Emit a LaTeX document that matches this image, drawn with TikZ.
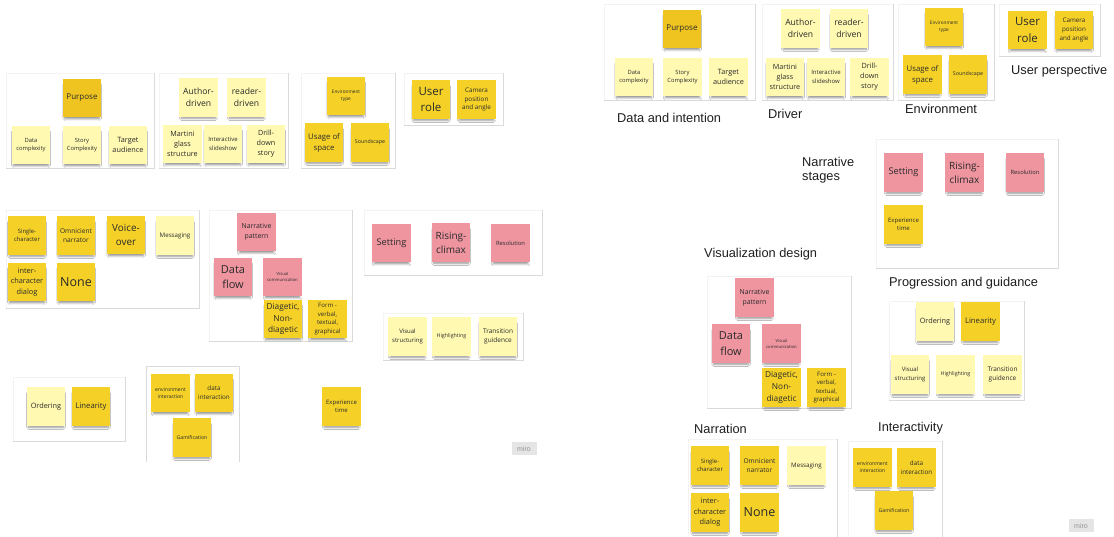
\documentclass[tikz,border=0pt]{standalone}
\usepackage{fontspec}
\setmainfont{Open Sans}
\newfontfamily\labelfont{Liberation Sans}
\usetikzlibrary{shadows.blur}

\definecolor{stickyD}{HTML}{F5D128}
\definecolor{stickyL}{HTML}{FFF9B1}
\definecolor{stickyP}{HTML}{EF95A0}
\definecolor{stickyG}{HTML}{EFC420}
\definecolor{ink}{HTML}{2A2A2A}
\definecolor{frameA}{HTML}{DADADA}
\definecolor{frameB}{HTML}{F3F3F3}

\tikzset{
  note/.style={minimum width=38.5pt, minimum height=38.5pt, inner sep=0pt,
    align=center, text=ink,
    blur shadow={shadow blur steps=6, shadow xshift=0pt, shadow yshift=-4pt,
      shadow opacity=42, shadow scale=0.9}},
  dark/.style={note, fill=stickyD},
  light/.style={note, fill=stickyL},
  pink/.style={note, fill=stickyP},
  gold/.style={note, fill=stickyG},
  fs/.style={font=\pgfmathsetmacro\lsk{1.4*#1}\fontsize{#1}{\lsk}\selectfont},
  lbl/.style={anchor=west, inner sep=0pt, text=black!88,
    font=\labelfont\fontsize{12.8}{15}\selectfont, align=left},
  badge/.style={fill=black!10, minimum width=25pt, minimum height=13pt,
    inner sep=0pt, text=black!42, font=\labelfont\fontsize{7}{8}\selectfont},
}

% frame: faint top/left edges, slightly darker right/bottom edges
\newcommand\frm[4]{%
  \draw[frameB, line width=0.7pt] (#1,#4) -- (#1,#2) -- (#3,#2);
  \draw[frameA, line width=0.8pt] (#3,#2) -- (#3,#4) -- (#1,#4);}

\begin{document}
\begin{tikzpicture}[x=1pt, y=-1pt]
\fill[white] (0,0) rectangle (1114,537);
\useasboundingbox (0,0) rectangle (1114,537);
\clip (0,0) rectangle (1114,537);

% ---------------- left board ----------------
\frm{6}{73}{154}{168}
\frm{159}{73}{288}{168}
\frm{301}{73}{395}{168}
\frm{404}{73}{503}{125}
\frm{6}{210}{199}{308}
\frm{209}{210}{352}{341}
\frm{364}{210}{542}{275}
\frm{383}{313}{523}{360}
\frm{13}{377}{125}{441}
\draw[frameA, line width=0.8pt] (146,462) -- (146,366) -- (239,366) -- (239,462);

\node[gold, fs=8]    (lPurpose) at (82,98)   {Purpose};
\node[light, fs=5.8] (lDataC)   at (31,145)  {Data\\complexity};
\node[light, fs=5.8] (lStoryC)  at (82,145)  {Story\\Complexity};
\node[light, fs=7.3] (lTarget)  at (128,145) {Target\\audience};

\node[light, fs=8.6] (lAuthor)  at (198.5,97.5) {Author-\\driven};
\node[light, fs=8.6] (lReader)  at (246.5,97.5) {reader-\\driven};
\node[light, fs=7.2] (lMartini) at (182.5,144)  {Martini\\glass\\structure};
\node[light, fs=6]   (lSlides)  at (223,144)    {Interactive\\slideshow};
\node[light, fs=7.2] (lDrill)   at (266,144)    {Drill-\\down\\story};

\node[dark, fs=4.7]  (lEnvType) at (346,96)    {Environment\\type};
\node[dark, fs=7.8]  (lUsage)   at (324,142.5) {Usage of\\space};
\node[dark, fs=5.3]  (lSound)   at (370,142.5) {Soundscape};

\node[dark, fs=11.5] (lUser)    at (431,99.5)   {User\\role};
\node[dark, fs=6.3]  (lCamera)  at (476.5,99.5) {Camera\\position\\and angle};

\node[dark, fs=5.9]  (lSingle)  at (27,235.5)  {Single-\\character};
\node[dark, fs=6.6]  (lOmni)    at (76,235.5)  {Omnicient\\narrator};
\node[dark, fs=9.9]  (lVoice)   at (126,235)   {Voice-\\over};
\node[light, fs=6.2] (lMsg)     at (175,235.5) {Messaging};
\node[dark, fs=7.4]  (lInter)   at (27,282)    {inter-\\character\\dialog};
\node[dark, fs=12.5] (lNone)    at (76,282)    {None};

\node[pink, fs=6.9]  (lPattern) at (256.5,232) {Narrative\\pattern};
\node[pink, fs=11]   (lFlow)    at (233,277)   {Data\\flow};
\node[pink, fs=4.2]  (lVisCom)  at (282.5,277) {Visual\\communication};
\node[dark, fs=8.3]  (lDiag)    at (283,319)   {Diagetic,\\Non-\\diagetic};
\node[dark, fs=6.1]  (lForm)    at (327.5,319) {Form -\\verbal,\\textual,\\graphical};

\node[pink, fs=9.2]  (lSetting) at (391.5,243) {Setting};
\node[pink, fs=10]   (lRising)  at (451,242.5) {Rising-\\climax};
\node[pink, fs=5.8]  (lResol)   at (510.5,243) {Resolution};

\node[light, fs=6]   (lVisStr)  at (407.5,336.5) {Visual\\structuring};
\node[light, fs=5.3] (lHigh)    at (451.5,336.5) {Highlighting};
\node[light, fs=6.5] (lTrans)   at (498,336.5)   {Transition\\guidence};

\node[light, fs=7.3] (lOrder)   at (46,406.5) {Ordering};
\node[dark, fs=7.7]  (lLinear)  at (91,406.5) {Linearity};

\node[dark, fs=5.1]  (lEnvInt)  at (170.5,393) {environment\\interaction};
\node[dark, fs=6.3]  (lDataInt) at (214,393)   {data\\interaction};
\node[dark, fs=5.2]  (lGame)    at (192,437.5) {Gamification};

\node[dark, fs=6]    (lExp)     at (341.5,406.5) {Experience\\time};
\node[badge]         (lMiro)    at (524,448.5)   {miro};

% ---------------- right board ----------------
\frm{604}{4}{755}{100}
\frm{762}{4}{893}{100}
\frm{898}{4}{994}{100}
\frm{999}{4}{1100}{56}
\frm{876}{139}{1058}{268}
\frm{707}{276}{851}{408}
\frm{889}{301}{1024}{400}
\frm{688}{439}{837}{545}
\frm{848}{441}{942}{545}

\node[gold, fs=8]    (rPurpose) at (682,29)   {Purpose};
\node[light, fs=5.8] (rDataC)   at (634,77)   {Data\\complexity};
\node[light, fs=5.8] (rStoryC)  at (682.5,77) {Story\\Complexity};
\node[light, fs=7.3] (rTarget)  at (728.5,77) {Target\\audience};
\node[lbl] (tData) at (617,118) {Data and intention};

\node[light, fs=8.6] (rAuthor)  at (800.5,28.5) {Author-\\driven};
\node[light, fs=8.6] (rReader)  at (849,28.5)   {reader-\\driven};
\node[light, fs=7.2] (rMartini) at (785,77)     {Martini\\glass\\structure};
\node[light, fs=6]   (rSlides)  at (826,77)     {Interactive\\slideshow};
\node[light, fs=7.2] (rDrill)   at (869.5,77)   {Drill-\\down\\story};
\node[lbl] (tDriver) at (768,114) {Driver};

\node[dark, fs=4.7]  (rEnvType) at (944,27)    {Environment\\type};
\node[dark, fs=7.8]  (rUsage)   at (922.5,74.5) {Usage of\\space};
\node[dark, fs=5.3]  (rSound)   at (968,74.5)  {Soundscape};
\node[lbl] (tEnv) at (905,109) {Environment};

\node[dark, fs=11.5] (rUser)    at (1027.5,30) {User\\role};
\node[dark, fs=6.3]  (rCamera)  at (1074,30)   {Camera\\position\\and angle};
\node[lbl] (tUser) at (1011,71) {User perspective};

\node[lbl, font=\labelfont\fontsize{12.8}{14}\selectfont] (tStages) at (802,170) {Narrative\\stages};
\node[pink, fs=9.2]  (rSetting) at (903.5,172.5) {Setting};
\node[pink, fs=10]   (rRising)  at (964.5,172.5) {Rising-\\climax};
\node[pink, fs=5.8]  (rResol)   at (1025,172.5)  {Resolution};
\node[dark, fs=6]    (rExp)     at (903.5,224.5) {Experience\\time};

\node[lbl] (tVis)  at (704,254) {Visualization design};
\node[lbl] (tProg) at (889,283) {Progression and guidance};

\node[pink, fs=6.9]  (rPattern) at (754.5,297.5) {Narrative\\pattern};
\node[pink, fs=11]   (rFlow)    at (731,343.5)   {Data\\flow};
\node[pink, fs=4.2]  (rVisCom)  at (781.5,343.5) {Visual\\communication};
\node[dark, fs=8.3]  (rDiag)    at (781.5,387.5) {Diagetic,\\Non-\\diagetic};
\node[dark, fs=6.1]  (rForm)    at (826.5,387.5) {Form -\\verbal,\\textual,\\graphical};

\node[light, fs=7.3] (rOrder)   at (935,321.5)   {Ordering};
\node[dark, fs=7.7]  (rLinear)  at (980.5,321.5) {Linearity};
\node[light, fs=6]   (rVisStr)  at (910,374.5)   {Visual\\structuring};
\node[light, fs=5.3] (rHigh)    at (955.5,374.5) {Highlighting};
\node[light, fs=6.5] (rTrans)   at (1002.5,374.5) {Transition\\guidence};

\node[lbl] (tNarr) at (694,429) {Narration};
\node[dark, fs=5.9]  (rSingle)  at (710,465.5)   {Single-\\character};
\node[dark, fs=6.6]  (rOmni)    at (759.5,465.5) {Omnicient\\narrator};
\node[light, fs=6.2] (rMsg)     at (806.5,465.5) {Messaging};
\node[dark, fs=7.4]  (rInter)   at (710,512.5)   {inter-\\character\\dialog};
\node[dark, fs=12.5] (rNone)    at (759.5,512.5) {None};

\node[lbl] (tInter) at (878,428) {Interactivity};
\node[dark, fs=5.1]  (rEnvInt)  at (872.5,467.5) {environment\\interaction};
\node[dark, fs=6.3]  (rDataInt) at (916.5,467.5) {data\\interaction};
\node[dark, fs=5.2]  (rGame)    at (894,510.5)   {Gamification};
\node[badge]         (rMiro)    at (1081,525.5)  {miro};
\end{tikzpicture}
\end{document}
